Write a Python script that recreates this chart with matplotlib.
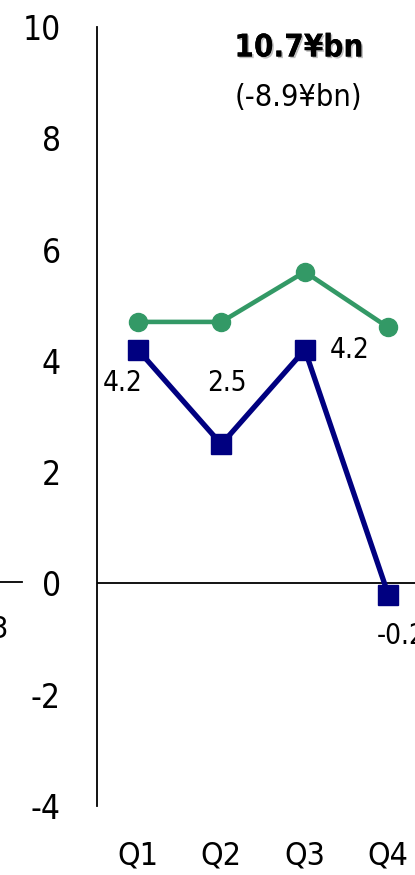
import matplotlib.pyplot as plt
import matplotlib.patheffects as pe

quarters = ["Q1", "Q2", "Q3", "Q4"]
green_vals = [4.7, 4.7, 5.6, 4.6]
blue_vals = [4.2, 2.5, 4.2, -0.2]
blue_labels = ["4.2", "2.5", "4.2", "-0.2"]
y_ticks = [-4, -2, 0, 2, 4, 6, 8, 10]

plt.rcParams['font.family'] = ['DejaVu Sans']
plt.rcParams['font.stretch'] = 'condensed'
plt.rcParams['axes.unicode_minus'] = False

W, H = 415, 875
fig = plt.figure(figsize=(W / 100, H / 100), dpi=100)
ax = fig.add_axes([97 / W, 1 - 806 / H, 1 - 97 / W, (806 - 27) / H])

x = list(range(len(quarters)))
ax.plot(x, green_vals, color="#339966", lw=3.3, marker="o", ms=13, zorder=3)
ax.plot(x, blue_vals, color="#000080", lw=3.8, marker="s", ms=14, zorder=4)
ax.axhline(0, color="black", lw=1.3, zorder=2)

# data labels
offs = [(-11, -24, "center"), (4, 44, "center"), (18, 0, "left"), (-8, -30, "left")]
for xi, v, lab, (dx, dy, ha) in zip(x, blue_vals, blue_labels, offs):
    ax.annotate(lab, (xi, v), xytext=(dx, dy), textcoords="offset points",
                ha=ha, va="center", fontsize=20, fontweight="medium",
                annotation_clip=False)

ax.set_xlim(-0.49, 3.32)
ax.set_ylim(-4, 10)
ax.set_yticks(y_ticks)
ax.set_xticks(x)
ax.set_xticklabels(quarters)
ax.tick_params(axis="y", length=0, pad=26, labelsize=24)
ax.tick_params(axis="x", length=0, pad=25, labelsize=23)
for s in ["top", "right", "bottom"]:
    ax.spines[s].set_visible(False)
ax.spines["left"].set_linewidth(1.3)

fig.text(299 / W, 1 - 48 / H, "10.7¥bn", ha="center", va="center", fontsize=22.5,
         fontweight="bold",
         path_effects=[pe.withSimplePatchShadow(offset=(1.2, -1.2), shadow_rgbFace="gray", alpha=0.5),
                       pe.Normal()])
fig.text(298 / W, 1 - 97 / H, "(-8.9¥bn)", ha="center", va="center", fontsize=22)

# neighbouring chart remnants at the left edge
fig.add_artist(plt.Line2D([0, 22 / W], [1 - 582 / H] * 2, color="black", lw=1.3))
fig.text(0, 1 - 630 / H, "3", ha="center", va="center", fontsize=22)

fig.savefig("out.png", dpi=100)
